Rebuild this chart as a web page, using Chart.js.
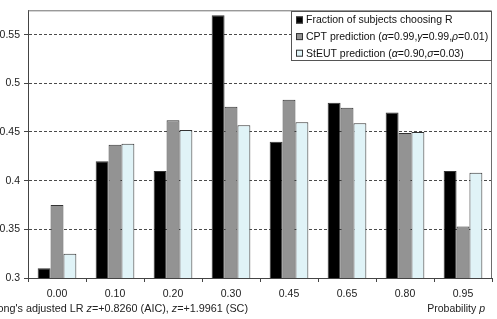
<!DOCTYPE html>
<html>
<head>
<meta charset="utf-8">
<script src="https://cdn.jsdelivr.net/npm/chart.js@4"></script>
<style>
  body { margin: 0; background: #fff; }
  canvas { display: block; }
</style>
</head>
<body>
<canvas id="chart" width="497" height="319"></canvas>
<script>
  // data
  const categories = ['0.00', '0.10', '0.20', '0.30', '0.45', '0.65', '0.80', '0.95'];
  const observed = [0.31, 0.42, 0.41, 0.57, 0.44, 0.48, 0.47, 0.41];
  const cptPred = [0.375, 0.437, 0.462, 0.476, 0.483, 0.475, 0.449, 0.353];
  const steutPred = [0.325, 0.438, 0.452, 0.457, 0.460, 0.459, 0.450, 0.408];
  const yTicks = [0.3, 0.35, 0.4, 0.45, 0.5, 0.55];
  const seriesLabels = [
    'Fraction of subjects choosing R',
    'CPT prediction (α=0.99,γ=0.99,ρ=0.01)',
    'StEUT prediction (α=0.90,σ=0.03)'
  ];
  const noteLeft = [["Vuong's adjusted LR ", false], ['z', true], ['=+0.8260 (AIC), ', false], ['z', true], ['=+1.9961 (SC)', false]];
  const noteRight = [['Probability ', false], ['p', true]];

  const FONT = '"Liberation Sans", Arial, sans-serif';
  const FSIZE = 10.5;
  const NSIZE = 10.8;
  const colors = ['#000000', '#939393', '#e0f3f7'];

  // draw runs of text, italic where flagged
  function runWidth(ctx, runs, size) {
    let w = 0;
    runs.forEach(r => {
      ctx.font = (r[1] ? 'italic ' : '') + size + 'px ' + FONT;
      w += ctx.measureText(r[0]).width;
    });
    return w;
  }
  function drawRuns(ctx, runs, x, y, size) {
    runs.forEach(r => {
      ctx.font = (r[1] ? 'italic ' : '') + size + 'px ' + FONT;
      ctx.fillText(r[0], x, y);
      x += ctx.measureText(r[0]).width;
    });
  }
  // Greek letters in the legend are set in italic
  function greekRuns(s) {
    const out = [];
    for (const ch of s) {
      const it = /[α-ω]/.test(ch);
      if (out.length && out[out.length - 1][1] === it) out[out.length - 1][0] += ch;
      else out.push([ch, it]);
    }
    return out;
  }

  const decor = {
    id: 'decor',
    afterDraw(chart) {
      const ctx = chart.ctx;
      const a = chart.chartArea;
      ctx.save();
      // frame of plot area
      ctx.strokeStyle = '#6e6e6e';
      ctx.lineWidth = 1;
      ctx.beginPath();
      ctx.moveTo(a.left, a.top + 0.5);
      ctx.lineTo(a.right - 0.5, a.top + 0.5);
      ctx.lineTo(a.right - 0.5, a.bottom);
      ctx.stroke();

      // legend
      const lx = 291, ly = 11, lw = a.right - 291, lh = 50;
      ctx.fillStyle = '#fff';
      ctx.fillRect(lx, ly, lw, lh);
      ctx.strokeStyle = '#555';
      ctx.strokeRect(lx + 0.5, ly + 0.5, lw - 1, lh - 1);
      ctx.textBaseline = 'middle';
      chart.data.datasets.forEach((ds, i) => {
        const cy = ly + 9 + i * 16.6;
        ctx.fillStyle = ds.backgroundColor;
        ctx.fillRect(296, cy - 3.5, 7, 7);
        ctx.strokeStyle = '#333';
        ctx.strokeRect(296.5, cy - 3, 6, 6);
        ctx.fillStyle = '#111';
        drawRuns(ctx, greekRuns(ds.label), 306, cy + 0.5, FSIZE);
      });

      // notes under the axis
      ctx.fillStyle = '#222';
      ctx.textBaseline = 'middle';
      ctx.textAlign = 'left';
      drawRuns(ctx, noteLeft, 248 - runWidth(ctx, noteLeft, NSIZE), 309, NSIZE);
      drawRuns(ctx, noteRight, 485 - runWidth(ctx, noteRight, FSIZE), 309, FSIZE);
      ctx.restore();
    }
  };

  const makeSet = (label, data, i) => ({
    label: label,
    data: data,
    backgroundColor: colors[i],
    borderColor: '#333',
    borderWidth: 1,
    borderSkipped: false,
    categoryPercentage: 0.667,
    barPercentage: 1.0
  });

  new Chart(document.getElementById('chart'), {
    type: 'bar',
    data: {
      labels: categories,
      datasets: [
        makeSet(seriesLabels[0], observed, 0),
        makeSet(seriesLabels[1], cptPred, 1),
        makeSet(seriesLabels[2], steutPred, 2)
      ]
    },
    options: {
      responsive: false,
      animation: false,
      layout: { padding: { top: 10, right: 5, left: 0, bottom: 0 } },
      plugins: {
        legend: { display: false },
        tooltip: { enabled: false }
      },
      scales: {
        x: {
          afterFit: s => { s.height = 41; },
          grid: { display: true, drawOnChartArea: false, drawTicks: true, tickLength: 4, tickColor: '#444', offset: true },
          border: { color: '#444', width: 1 },
          ticks: { color: '#222', padding: 6, font: { family: FONT, size: FSIZE } }
        },
        y: {
          min: 0.3,
          max: 0.575,
          afterFit: s => { s.width = 28; },
          afterBuildTicks: s => { s.ticks = yTicks.map(v => ({ value: v })); },
          grid: { color: '#4a4a4a', lineWidth: 1, tickLength: 4, tickColor: '#444', borderDash: [3, 2], tickBorderDash: [] },
          border: { color: '#444', width: 1, dash: [3, 2] },
          ticks: {
            color: '#222',
            padding: 4,
            font: { family: FONT, size: FSIZE },
            callback: v => String(+Number(v).toFixed(2))
          }
        }
      }
    },
    plugins: [decor]
  });
</script>
</body>
</html>
